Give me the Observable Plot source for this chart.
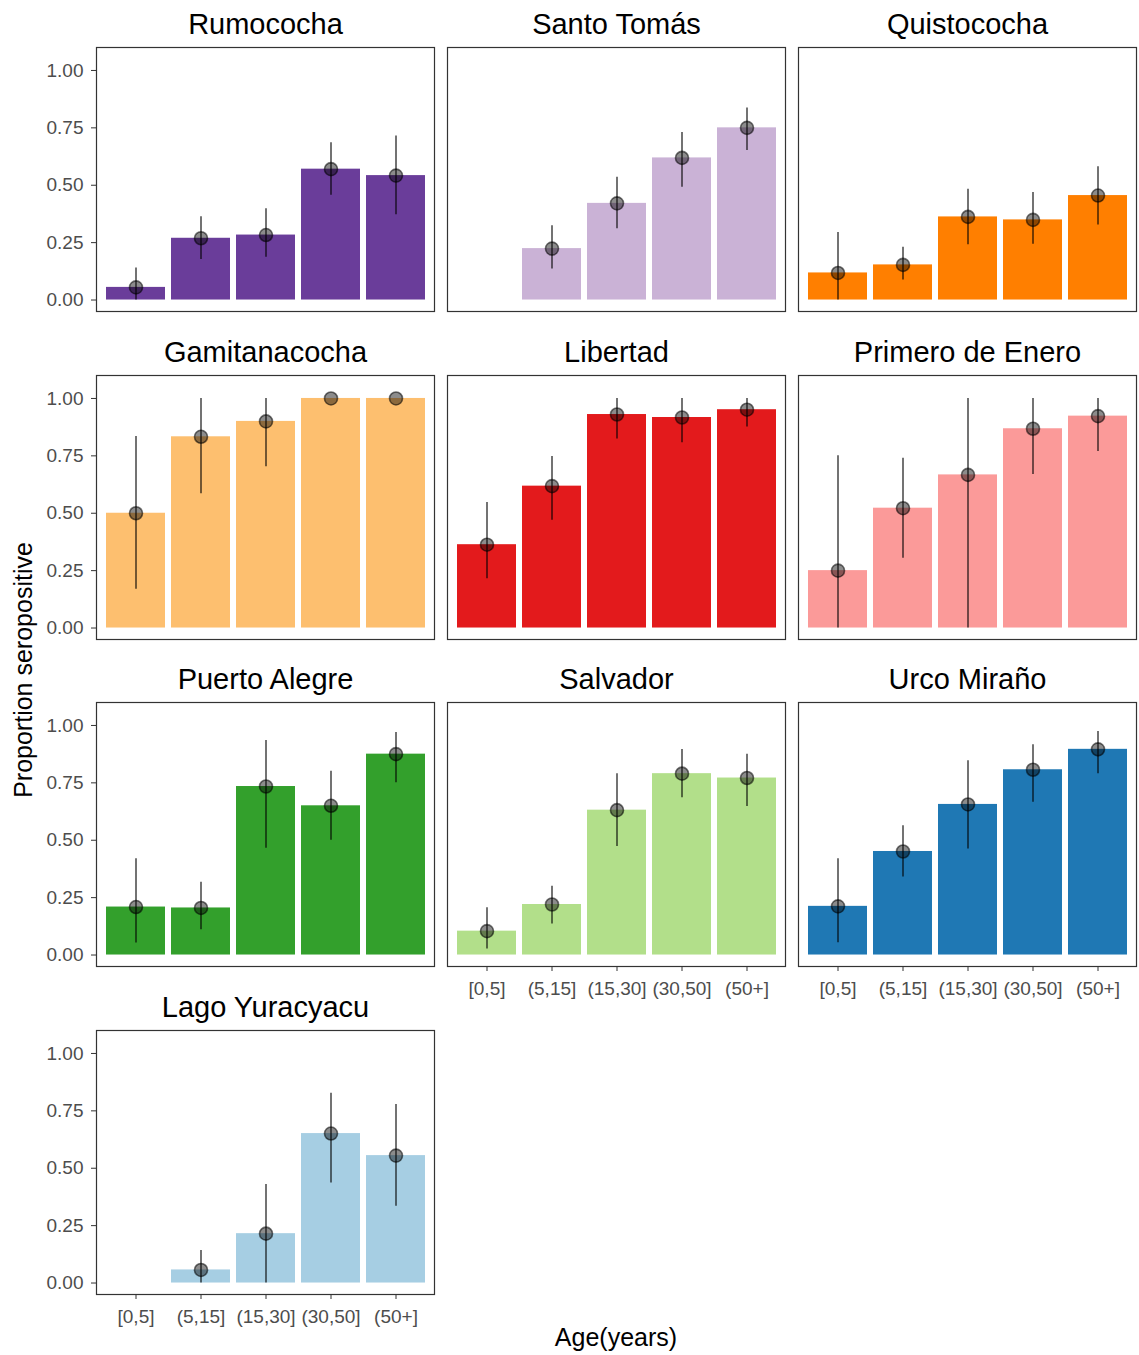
<!DOCTYPE html>
<html>
<head>
<meta charset="utf-8">
<script src="https://cdn.jsdelivr.net/npm/d3@7"></script>
<script src="https://cdn.jsdelivr.net/npm/@observablehq/plot@0.6"></script>
<style>
  html, body { margin: 0; padding: 0; background: white; }
  #chart { position: relative; width: 1139px; height: 1355px; font-family: "Liberation Sans", Arial, sans-serif; overflow: hidden; }
  #chart svg { position: absolute; }
  .axis-title { position: absolute; font-size: 25px; line-height: 25px; color: black; white-space: nowrap; }
</style>
</head>
<body>
<div id="chart"></div>
<script>
// ---- Data ----
const ageGroups = ["[0,5]", "(5,15]", "(15,30]", "(30,50]", "(50+]"];
const panelTitles = ["Rumococha", "Santo Tomás", "Quistococha", "Gamitanacocha", "Libertad",
  "Primero de Enero", "Puerto Alegre", "Salvador", "Urco Miraño", "Lago Yuracyacu"];
const barColors = ["#6A3D9A", "#CAB2D6", "#FF7F00", "#FDBF6F", "#E31A1C",
  "#FB9A99", "#33A02C", "#B2DF8A", "#1F78B4", "#A6CEE3"];
const proportion = [
  [0.055, 0.269, 0.283, 0.570, 0.542],
  [null, 0.224, 0.421, 0.619, 0.750],
  [0.118, 0.153, 0.362, 0.349, 0.455],
  [0.500, 0.833, 0.900, 1.000, 1.000],
  [0.363, 0.618, 0.930, 0.917, 0.951],
  [0.250, 0.522, 0.667, 0.868, 0.923],
  [0.209, 0.205, 0.734, 0.650, 0.875],
  [0.104, 0.220, 0.631, 0.790, 0.771],
  [0.212, 0.451, 0.656, 0.807, 0.896],
  [null, 0.057, 0.215, 0.651, 0.555]
];
const lower = [
  [0.000, 0.176, 0.186, 0.456, 0.371],
  [null, 0.135, 0.310, 0.491, 0.651],
  [0.000, 0.087, 0.241, 0.243, 0.327],
  [0.169, 0.585, 0.702, 1.000, 1.000],
  [0.215, 0.469, 0.823, 0.807, 0.876],
  [0.000, 0.304, 0.000, 0.669, 0.769],
  [0.052, 0.110, 0.465, 0.500, 0.750],
  [0.026, 0.135, 0.473, 0.685, 0.647],
  [0.054, 0.340, 0.462, 0.666, 0.790],
  [null, 0.000, 0.000, 0.436, 0.334]
];
const upper = [
  [0.140, 0.363, 0.398, 0.685, 0.714],
  [null, 0.324, 0.535, 0.730, 0.836],
  [0.294, 0.230, 0.483, 0.468, 0.580],
  [0.834, 1.000, 1.000, 1.000, 1.000],
  [0.547, 0.747, 1.000, 1.000, 1.000],
  [0.750, 0.740, 1.000, 1.000, 1.000],
  [0.419, 0.317, 0.935, 0.800, 0.969],
  [0.206, 0.300, 0.790, 0.895, 0.875],
  [0.419, 0.563, 0.846, 0.916, 0.974],
  [null, 0.142, 0.429, 0.827, 0.778]
];
const yTicks = [0, 0.25, 0.5, 0.75, 1];

// ---- Layout ----
const colLeft = [96, 447, 798];
const rowTop = [47, 375, 702, 1030];
const panelW = 338, panelH = 264;
const mL = 75, mR = 6, mT = 50, mB = 45;
const font = "'Liberation Sans', Arial, sans-serif";
const chart = document.getElementById("chart");
const nCols = 3;
const nPanels = panelTitles.length;

panelTitles.forEach((title, i) => {
  const col = i % nCols, row = Math.floor(i / nCols);
  const rows = ageGroups.map((a, j) => ({age: a, p: proportion[i][j], lo: lower[i][j], hi: upper[i][j]}))
    .filter(d => d.p != null);
  const showY = col === 0;
  const showX = (i + nCols) >= nPanels; // no panel below
  const marks = [
    Plot.barY(rows, {x: "age", y: "p", fill: barColors[i]}),
    Plot.ruleX(rows, {x: "age", y1: "lo", y2: "hi", stroke: "black", strokeOpacity: 0.55, strokeWidth: 2}),
    Plot.dot(rows, {x: "age", y: "p", r: 6.5, fill: "black", fillOpacity: 0.45, stroke: "black", strokeOpacity: 0.55, strokeWidth: 1.6}),
    Plot.frame({stroke: "#333333", strokeWidth: 1.2}),
    Plot.text([title], {text: d => d, frameAnchor: "top", dy: -14, lineAnchor: "bottom", fontSize: 29, fill: "black"})
  ];
  if (showY) marks.push(Plot.axisY({ticks: yTicks, tickFormat: d3.format(".2f"), tickSize: 5, tickPadding: 8,
    fontSize: 19, fill: "#4d4d4d", stroke: "#333333", label: null}));
  if (showX) marks.push(Plot.axisX({tickSize: 5, tickPadding: 10, fontSize: 19, fill: "#4d4d4d", stroke: "#333333", label: null}));
  const svg = Plot.plot({
    width: mL + panelW + mR,
    height: mT + panelH + mB,
    marginLeft: mL, marginRight: mR, marginTop: mT, marginBottom: mB,
    style: {fontFamily: font, background: "transparent", overflow: "visible"},
    x: {domain: ageGroups, paddingInner: 0.1, paddingOuter: 0.15, align: 0.5, axis: showX ? undefined : null},
    y: {domain: [-0.05, 1.1], axis: showY ? undefined : null},
    marks
  });
  svg.style.left = (colLeft[col] - mL) + "px";
  svg.style.top = (rowTop[row] - mT) + "px";
  chart.appendChild(svg);
});

const yTitle = document.createElement("div");
yTitle.className = "axis-title";
yTitle.textContent = "Proportion seropositive";
yTitle.style.left = "23px";
yTitle.style.top = "670px";
yTitle.style.transform = "translate(-50%, -50%) rotate(-90deg)";
chart.appendChild(yTitle);

const xTitle = document.createElement("div");
xTitle.className = "axis-title";
xTitle.textContent = "Age(years)";
xTitle.style.left = "616px";
xTitle.style.top = "1337px";
xTitle.style.transform = "translate(-50%, -50%)";
chart.appendChild(xTitle);
</script>
</body>
</html>
